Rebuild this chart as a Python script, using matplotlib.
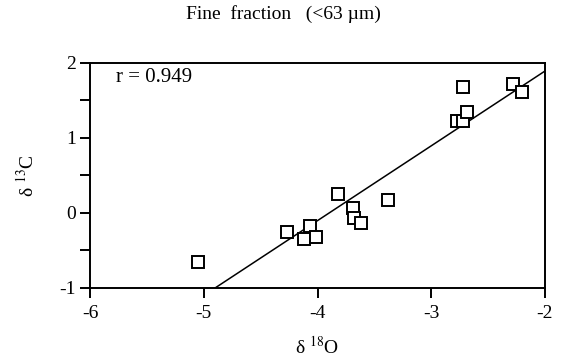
import numpy as np
import matplotlib
matplotlib.use("Agg")
import matplotlib.pyplot as plt
from matplotlib.ticker import MultipleLocator

plt.rcParams["font.family"] = ["Liberation Serif", "DejaVu Serif"]
plt.rcParams["mathtext.fontset"] = "stix"
plt.rcParams["font.size"] = 14
plt.rcParams["axes.unicode_minus"] = False

# data
d18O = [-5.05, -4.27, -4.07, -4.12, -4.01, -3.82, -3.69, -3.68, -3.62,
        -3.38, -2.72, -2.77, -2.72, -2.69, -2.28, -2.20]
d13C = [-0.66, -0.26, -0.17, -0.35, -0.32, 0.25, 0.06, -0.07, -0.13,
        0.17, 1.68, 1.23, 1.23, 1.34, 1.71, 1.61]
fit_slope = 0.996
fit_intercept = 3.881
r_value = 0.949

fig = plt.figure(figsize=(5.64, 3.57), dpi=100)
ax = fig.add_axes([0.1596, 0.1933, 0.8067, 0.6311])

# regression line
xl = np.array([-6, -2])
ax.plot(xl, fit_slope * xl + fit_intercept, color="black", lw=1.1)

ax.plot(d18O, d13C, ls="none", marker="s", ms=8.8, mfc="white",
        mec="black", mew=1.4)

ax.set_xlim(-6, -2)
ax.set_ylim(-1, 2)
ax.xaxis.set_major_locator(MultipleLocator(1))
ax.yaxis.set_major_locator(MultipleLocator(1))
ax.yaxis.set_minor_locator(MultipleLocator(0.5))
ax.tick_params(direction="out", length=7.2, width=1.4)
ax.tick_params(axis="x", pad=5)
ax.tick_params(axis="y", pad=3)
ax.tick_params(which="minor", direction="out", length=7.2, width=1.4)
for s in ax.spines.values():
    s.set_linewidth(1.4)

ax.text(0.058, 0.935, f"r = {r_value}", transform=ax.transAxes,
        ha="left", va="center", fontsize=15)

ax.set_xlabel(r"δ $^{18}$O", labelpad=10)
ax.set_ylabel(r"δ $^{13}$C", labelpad=16)
fig.text(0.503, 0.96, "Fine  fraction   (<63 µm)", ha="center", va="center")

fig.savefig("out.png", dpi=100)
